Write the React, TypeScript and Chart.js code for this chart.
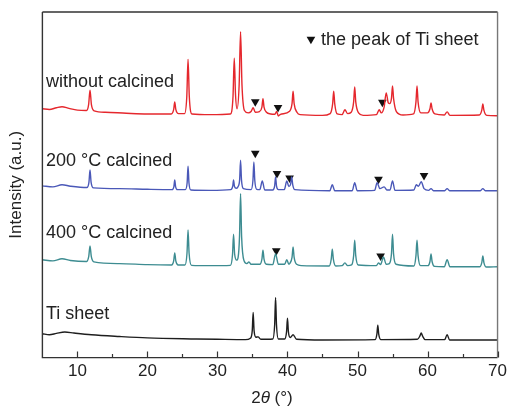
import React, { useEffect, useRef } from "react";
import { Chart, registerables } from "chart.js";

Chart.register(...registerables);

// ---- data (2θ in degrees, intensity in stacked arbitrary units) ----
const xMajorTicks = [10, 20, 30, 40, 50, 60, 70];
const xMinorTicks = [15, 25, 35, 45, 55, 65];

const seriesNames = ["without calcined", "200 °C calcined", "400 °C calcined", "Ti sheet"];
const legendText = "the peak of Ti sheet";

const withoutCalcined: [number, number][] = [
  [5, 72.0], [6, 71.8], [7, 72.3], [7.8, 72.6], [8.8, 72.1], [10, 71.6],
  [11.3, 71.5], [11.6, 73.2], [11.8, 77.4], [12.0, 73.2], [12.4, 71.4], [14, 71.0], [17, 70.7], [20, 70.5],
  [23.4, 70.5], [23.75, 71.8], [23.9, 74.0], [24.05, 71.8], [24.45, 70.6],
  [25.3, 70.6], [25.62, 75.5], [25.8, 86.3], [25.98, 75.5], [26.35, 70.5], [29, 70.3],
  [31.85, 70.5], [32.22, 75.5], [32.4, 86.6], [32.58, 76.0], [32.8, 72.0],
  [33.1, 79.0], [33.3, 94.3], [33.5, 79.0], [33.85, 71.5],
  [34.4, 70.8], [34.8, 71.2], [35.1, 72.3], [35.4, 71.0],
  [36.0, 71.2], [36.35, 72.5], [36.5, 74.9], [36.65, 72.5], [37.0, 71.0],
  [37.6, 70.5], [38.2, 70.4], [38.45, 71.2], [38.7, 69.9], [39.0, 70.4],
  [40.3, 71.3], [40.65, 73.5], [40.8, 77.1], [40.95, 73.5], [41.35, 71.0], [41.8, 70.3],
  [45, 70.1], [46.1, 70.6], [46.45, 73.4], [46.6, 77.1], [46.75, 73.4], [47.1, 70.5],
  [47.8, 70.3], [48.2, 71.7], [48.6, 70.6],
  [49.1, 71.0], [49.45, 74.0], [49.6, 78.3], [49.75, 74.0], [50.15, 70.8], [50.8, 70.1],
  [52.7, 70.3], [53.1, 71.7], [53.4, 70.8], [53.8, 72.5], [54.1, 76.6], [54.4, 73.7],
  [54.6, 73.5], [54.85, 75.0], [55.0, 78.6], [55.15, 75.0], [55.55, 71.2], [56.5, 70.2],
  [58.0, 70.5], [58.35, 74.0], [58.5, 78.6], [58.65, 74.0], [59.05, 70.8],
  [60.0, 70.8], [60.35, 72.0], [60.5, 73.7], [60.65, 72.0], [61.05, 70.5],
  [62.4, 70.2], [62.8, 71.1], [63.2, 70.1],
  [67.4, 70.2], [67.75, 71.6], [67.9, 73.4], [68.05, 71.6], [68.45, 70.1], [70, 70.0],
];

const calcined200: [number, number][] = [
  [5, 49.7], [6.5, 49.4], [7.8, 50.0], [9, 49.6],
  [11.35, 49.2], [11.65, 50.8], [11.8, 54.3], [11.95, 50.8], [12.3, 49.1],
  [16, 48.9], [20, 48.7],
  [23.5, 48.6], [23.78, 49.5], [23.9, 51.4], [24.02, 49.5], [24.3, 48.6],
  [25.4, 48.6], [25.67, 50.6], [25.8, 55.4], [25.93, 50.6], [26.2, 48.5], [29, 48.4],
  [31.9, 48.6], [32.18, 49.6], [32.3, 51.4], [32.42, 49.6], [32.7, 49.0],
  [32.95, 49.5], [33.17, 51.5], [33.3, 57.1], [33.43, 51.5], [33.7, 48.9],
  [34.8, 48.6], [35.07, 51.3], [35.2, 56.6], [35.33, 51.3], [35.6, 48.7],
  [36.05, 48.6], [36.4, 51.1], [36.75, 48.5],
  [37.9, 48.5], [38.17, 49.7], [38.3, 52.3], [38.43, 49.7], [38.7, 48.6],
  [39.55, 48.6], [39.9, 51.1], [40.2, 49.5], [40.45, 50.2], [40.6, 52.3], [40.75, 50.0], [41.05, 48.6],
  [46.05, 48.3], [46.4, 50.0], [46.75, 48.3],
  [49.25, 48.3], [49.6, 50.6], [49.95, 48.3],
  [52.45, 48.4], [52.8, 50.6], [53.2, 48.9], [53.8, 49.4], [54.2, 48.5],
  [54.65, 48.5], [55.0, 51.1], [55.35, 48.4],
  [58.05, 48.5], [58.4, 50.0], [58.7, 49.6], [59.1, 50.9], [59.5, 48.9],
  [60.15, 48.4], [60.5, 48.9], [60.85, 48.3],
  [62.45, 48.3], [62.8, 48.9], [63.15, 48.3],
  [67.55, 48.3], [67.9, 48.9], [68.25, 48.3], [70, 48.3],
];

const calcined400: [number, number][] = [
  [5, 28.3], [6.5, 28.0], [7.8, 28.6], [9, 28.1],
  [11.3, 27.8], [11.62, 29.3], [11.8, 32.3], [11.98, 29.3], [12.35, 27.7],
  [16, 27.2], [20, 26.9],
  [23.45, 26.8], [23.75, 28.0], [23.9, 30.3], [24.05, 28.0], [24.4, 26.8],
  [25.35, 26.8], [25.65, 30.2], [25.8, 36.9], [25.95, 30.2], [26.3, 26.7], [29, 26.6],
  [31.85, 26.7], [32.15, 29.8], [32.3, 35.7], [32.45, 30.0], [32.75, 28.2],
  [32.95, 29.0], [33.15, 35.0], [33.3, 47.4], [33.45, 35.0], [33.8, 28.0],
  [34.2, 27.2], [34.5, 27.7], [34.8, 27.0],
  [36.05, 27.0], [36.35, 28.5], [36.5, 31.1], [36.65, 28.5], [37.0, 27.0],
  [37.9, 26.9], [38.3, 30.0], [38.7, 27.0],
  [39.6, 27.0], [39.9, 28.3], [40.2, 27.0],
  [40.35, 27.3], [40.65, 29.0], [40.8, 32.0], [40.95, 29.0], [41.3, 27.0], [42, 26.6],
  [45.95, 26.5], [46.25, 28.5], [46.4, 31.4], [46.55, 28.5], [46.9, 26.5],
  [47.8, 26.6], [48.2, 27.4], [48.6, 26.6],
  [49.15, 26.8], [49.45, 29.5], [49.6, 34.0], [49.75, 29.5], [50.1, 26.8],
  [52.7, 26.6], [53.0, 27.4], [53.3, 26.9], [53.7, 29.1], [54.1, 27.0],
  [54.55, 27.2], [54.85, 30.0], [55.0, 35.7], [55.15, 30.0], [55.5, 27.0],
  [58.05, 26.5], [58.35, 29.5], [58.5, 34.0], [58.65, 29.5], [59.0, 26.6],
  [60.05, 26.6], [60.35, 27.8], [60.5, 30.0], [60.65, 27.8], [61.0, 26.4],
  [62.4, 26.3], [62.8, 28.3], [63.2, 26.3],
  [67.45, 26.3], [67.75, 27.5], [67.9, 29.4], [68.05, 27.5], [68.4, 26.2], [70, 26.3],
];

const tiSheet: [number, number][] = [
  [5, 6.9], [6, 6.6], [7, 7.0], [8.2, 7.4], [9.5, 7.1], [12, 6.6], [16, 6.1], [20, 5.7],
  [27, 5.4], [30, 5.3], [34, 5.2],
  [34.7, 5.6], [34.97, 7.8], [35.1, 13.1], [35.23, 7.8], [35.5, 5.9], [35.8, 6.0], [36.2, 5.3],
  [37.9, 5.4], [38.17, 9.5], [38.3, 17.4], [38.43, 9.5], [38.7, 5.4],
  [39.6, 5.4], [39.87, 7.5], [40.0, 11.4], [40.13, 7.5], [40.4, 5.8], [40.8, 6.6], [41.3, 5.3],
  [45, 5.1],
  [52.5, 5.2], [52.77, 6.8], [52.9, 9.4], [53.03, 6.8], [53.35, 5.2],
  [58.55, 5.3], [58.9, 6.2], [59.1, 7.1], [59.3, 6.2], [59.65, 5.2],
  [62.45, 5.2], [62.8, 6.6], [63.15, 5.1], [70, 5.1],
];

// Ti-sheet peak markers (▼) on each trace
const markersWithout: [number, number][] = [[35.4, 74.0], [38.65, 72.4], [53.55, 73.9]];
const markers200: [number, number][] = [[35.4, 59.1], [38.5, 53.3], [40.3, 52.0], [53.0, 51.6], [59.5, 52.7]];
const markers400: [number, number][] = [[38.4, 30.9], [53.3, 29.4]];
const legendMarker: [number, number][] = [[43.35, 92.1]];

// ---- presentation ----
const FONT = 'Arial, "Liberation Sans", Helvetica, sans-serif';
const TEXT_COLOR = "#222";
const seriesColors = ["#e5272d", "#4a58b8", "#3d8c91", "#1e1e1e"];
const labelAnchors: [number, number][] = [[5.5, 79.7], [5.5, 56.9], [5.5, 36.0], [5.5, 12.6]];
const legendTextAnchor: [number, number] = [44.8, 92.0];

const toXY = (arr: [number, number][]) => arr.map(([x, y]) => ({ x, y }));

const overlayPlugin = {
  id: "overlay",
  afterDraw(chart: any) {
    const { ctx, chartArea, scales } = chart;
    const xs = scales.x;
    const ys = scales.y;
    ctx.save();
    // frame
    ctx.lineWidth = 1.4;
    ctx.strokeStyle = "#333";
    ctx.beginPath();
    ctx.moveTo(chartArea.left, chartArea.top);
    ctx.lineTo(chartArea.left, chartArea.bottom);
    ctx.lineTo(chartArea.right, chartArea.bottom);
    ctx.moveTo(chartArea.left, chartArea.top);
    ctx.lineTo(chartArea.right, chartArea.top);
    ctx.stroke();
    ctx.strokeStyle = "#777";
    ctx.beginPath();
    ctx.moveTo(chartArea.right, chartArea.top);
    ctx.lineTo(chartArea.right, chartArea.bottom);
    ctx.stroke();
    // inward ticks
    ctx.strokeStyle = "#333";
    ctx.lineWidth = 1.2;
    ctx.beginPath();
    xMajorTicks.forEach((v) => {
      const px = Math.round(xs.getPixelForValue(v)) + 0.5;
      ctx.moveTo(px, chartArea.bottom);
      ctx.lineTo(px, chartArea.bottom - 6);
    });
    xMinorTicks.forEach((v) => {
      const px = Math.round(xs.getPixelForValue(v)) + 0.5;
      ctx.moveTo(px, chartArea.bottom);
      ctx.lineTo(px, chartArea.bottom - 3.5);
    });
    ctx.stroke();
    // series labels
    ctx.fillStyle = TEXT_COLOR;
    ctx.font = `18px ${FONT}`;
    ctx.textAlign = "left";
    ctx.textBaseline = "middle";
    seriesNames.forEach((name, i) => {
      const [ax, ay] = labelAnchors[i];
      ctx.fillText(name, xs.getPixelForValue(ax), ys.getPixelForValue(ay));
    });
    ctx.fillText(legendText, xs.getPixelForValue(legendTextAnchor[0]), ys.getPixelForValue(legendTextAnchor[1]));
    // x-axis title: 2θ (°) with italic θ
    const parts = [
      { t: "2", f: `17px ${FONT}` },
      { t: "θ", f: `italic 17px ${FONT}` },
      { t: " (°)", f: `17px ${FONT}` },
    ];
    let total = 0;
    parts.forEach((p) => {
      ctx.font = p.f;
      total += ctx.measureText(p.t).width;
    });
    let x = (chartArea.left + chartArea.right) / 2 - total / 2 + 2;
    const y = chartArea.bottom + 41;
    parts.forEach((p) => {
      ctx.font = p.f;
      ctx.fillText(p.t, x, y);
      x += ctx.measureText(p.t).width;
    });
    ctx.restore();
  },
};

export default function App() {
  const canvasRef = useRef<HTMLCanvasElement | null>(null);

  useEffect(() => {
    if (!canvasRef.current) return;
    const lines = [withoutCalcined, calcined200, calcined400, tiSheet].map((d, i) => ({
      type: "line" as const,
      label: seriesNames[i],
      data: toXY(d),
      borderColor: seriesColors[i],
      borderWidth: 1.4,
      pointRadius: 0,
      cubicInterpolationMode: "monotone" as const,
      fill: false,
    }));
    const markerSets = [markersWithout, markers200, markers400, legendMarker].map((d) => ({
      type: "line" as const,
      label: "marker",
      data: toXY(d),
      showLine: false,
      pointStyle: "triangle" as const,
      rotation: 180,
      pointRadius: 5,
      backgroundColor: "#111",
      borderColor: "#111",
      borderWidth: 0,
    }));
    const chart = new Chart(canvasRef.current, {
      type: "line",
      data: { datasets: [...lines, ...markerSets] as any },
      options: {
        animation: false,
        responsive: false,
        devicePixelRatio: 1,
        layout: { padding: { left: 2, right: 12, top: 12, bottom: 26 } },
        plugins: { legend: { display: false }, tooltip: { enabled: false } },
        scales: {
          x: {
            type: "linear",
            min: 5,
            max: 70,
            afterBuildTicks: (s: any) => {
              s.ticks = xMajorTicks.map((v) => ({ value: v }));
            },
            grid: { display: false, drawTicks: false },
            border: { display: false },
            ticks: {
              font: { size: 17, family: FONT },
              color: TEXT_COLOR,
              padding: 4,
              maxRotation: 0,
              autoSkip: false,
            },
          },
          y: {
            type: "linear",
            min: 0,
            max: 100,
            grid: { display: false, drawTicks: false },
            border: { display: false },
            ticks: { display: false },
            title: {
              display: true,
              text: "Intensity (a.u.)",
              font: { size: 17, family: FONT },
              color: TEXT_COLOR,
              padding: { top: 4, bottom: 16 },
            },
          },
        },
      } as any,
      plugins: [overlayPlugin],
    });
    return () => chart.destroy();
  }, []);

  return (
    <div style={{ position: "fixed", left: 0, top: 0, width: 511, height: 412, background: "#fff" }}>
      <canvas ref={canvasRef} width={511} height={412} style={{ display: "block" }} />
    </div>
  );
}
